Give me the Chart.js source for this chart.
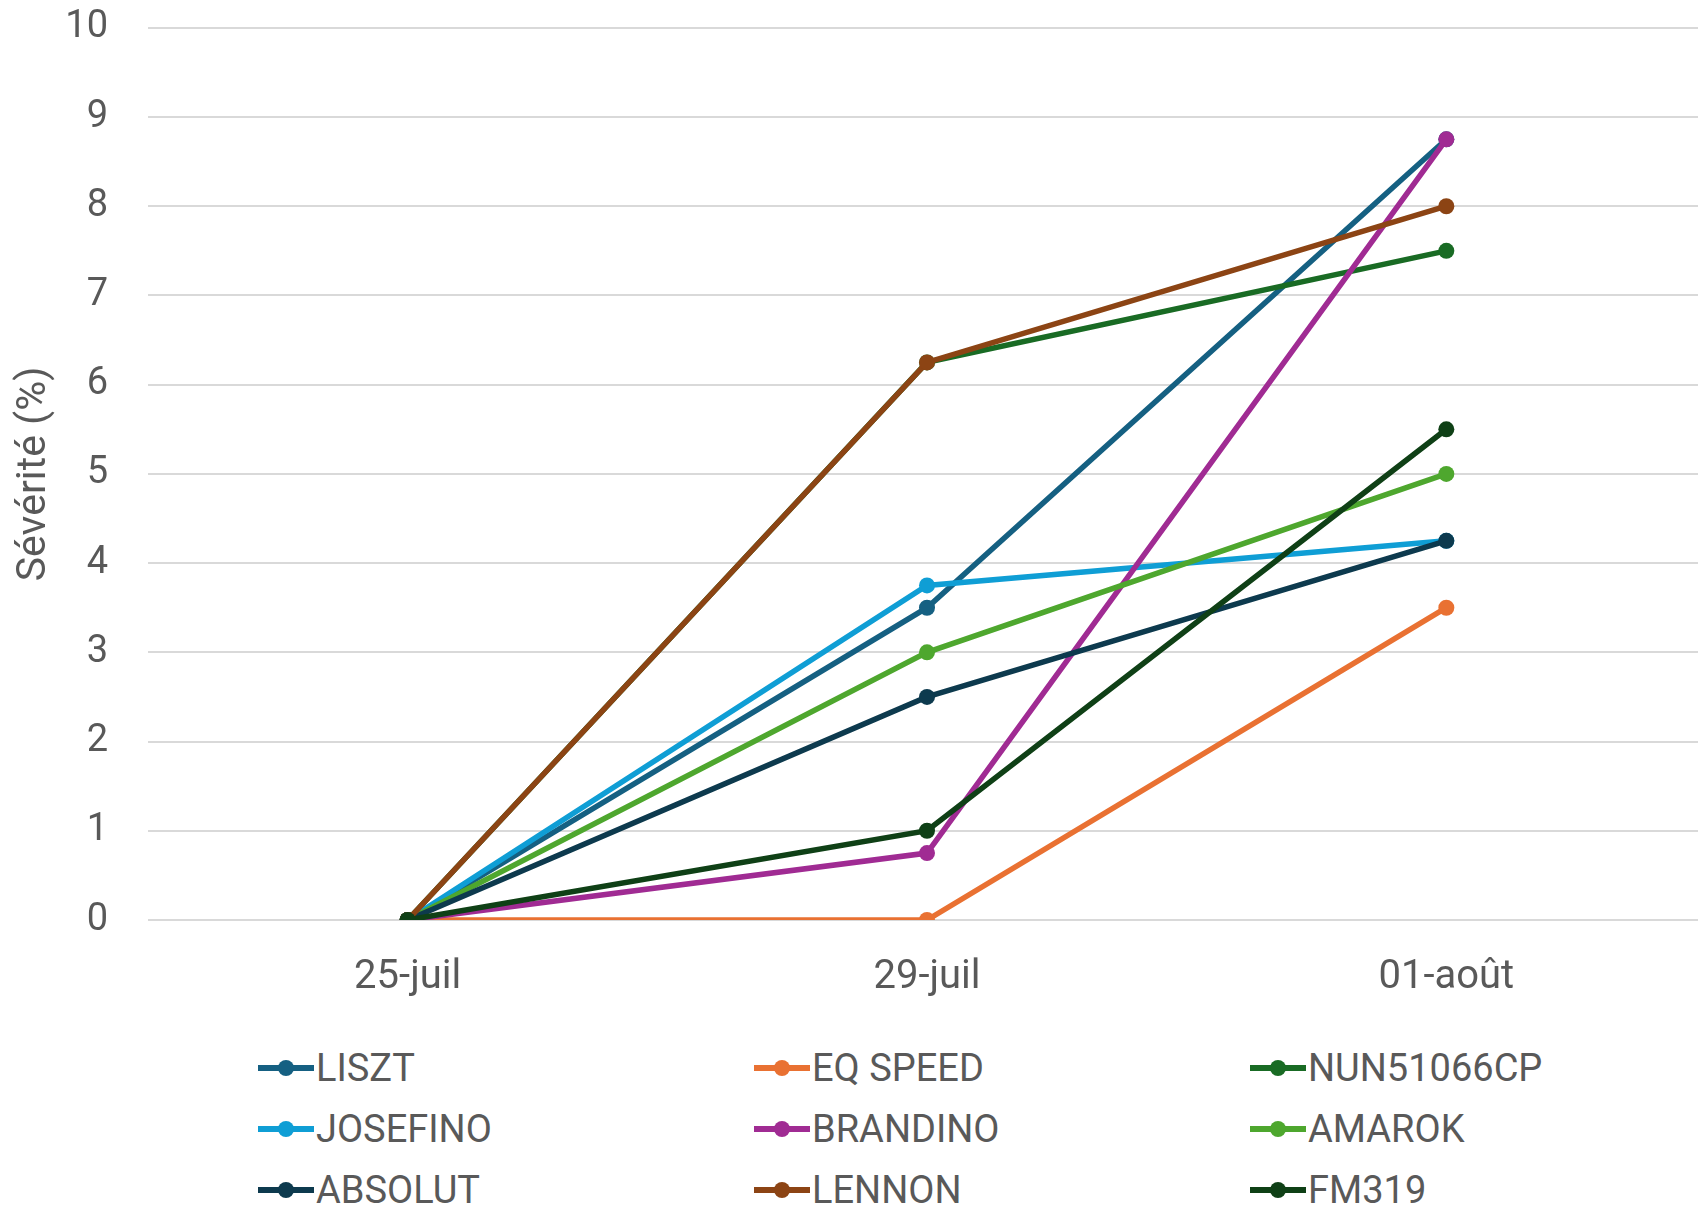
<!DOCTYPE html>
<html>
<head>
<meta charset="utf-8">
<script src="https://cdn.jsdelivr.net/npm/chart.js@4"></script>
<style>
  html, body { margin: 0; padding: 0; background: #fff; overflow: hidden; }
  #wrap { position: relative; width: 1698px; height: 1206px; overflow: hidden; font-family: Roboto, sans-serif; }
  #chartBox { position: absolute; left: 0; top: -35px; width: 1714px; height: 1047px; }
  #legend { position: absolute; left: 258px; top: 1037px; width: 1440px; display: grid;
    grid-template-columns: 496px 496px 448px; grid-auto-rows: 61px; }
  .item { display: flex; align-items: center; font-size: 38px; color: #595959; }
  .sym { position: relative; width: 56px; height: 16px; margin-right: 2px; }
  .sym .ln { position: absolute; left: 0; right: 0; top: 5px; height: 6px; }
  .sym .pt { position: absolute; left: 20px; top: 0; width: 16px; height: 16px; border-radius: 50%; }
</style>
</head>
<body>
<div id="wrap">
  <div id="chartBox"><canvas id="chart"></canvas></div>
  <div id="legend"></div>
</div>
<script>
const categories = ['25-juil', '29-juil', '01-août'];
const seriesNames = ['LISZT', 'EQ SPEED', 'NUN51066CP', 'JOSEFINO', 'BRANDINO', 'AMAROK', 'ABSOLUT', 'LENNON', 'FM319'];
const liszt = [0, 3.5, 8.75];
const eqSpeed = [0, 0, 3.5];
const nun51066cp = [0, 6.25, 7.5];
const josefino = [0, 3.75, 4.25];
const brandino = [0, 0.75, 8.75];
const amarok = [0, 3, 5];
const absolut = [0, 2.5, 4.25];
const lennon = [0, 6.25, 8];
const fm319 = [0, 1, 5.5];
const seriesColors = ['#156082', '#E97132', '#196B24', '#0F9ED5', '#A02B93', '#4EA72E', '#0D3A4E', '#8C4414', '#0F4016'];

const allValues = [liszt, eqSpeed, nun51066cp, josefino, brandino, amarok, absolut, lennon, fm319];
const textColor = '#595959';

const datasets = seriesNames.map((name, i) => ({
  label: name,
  data: allValues[i],
  borderColor: seriesColors[i],
  backgroundColor: seriesColors[i],
  borderWidth: 5.5,
  pointRadius: 8,
  pointHoverRadius: 8,
  pointBorderWidth: 0,
  tension: 0,
  order: seriesNames.length - i   // later series drawn on top, like the original
}));

const ctx = document.getElementById('chart').getContext('2d');
const chart = new Chart(ctx, {
  type: 'line',
  data: { labels: categories, datasets: datasets },
  options: {
    responsive: true,
    maintainAspectRatio: false,
    animation: false,
    layout: { padding: 0 },
    plugins: { legend: { display: false }, tooltip: { enabled: false } },
    scales: {
      x: {
        offset: true,
        grid: { display: false },
        border: { display: false },
        ticks: { color: textColor, font: { family: 'Roboto', size: 40 }, padding: 26 },
        afterFit: scale => { scale.height = 92; }
      },
      y: {
        min: 0,
        max: 10,
        ticks: { stepSize: 1, color: textColor, font: { family: 'Roboto', size: 38 }, padding: 40 },
        grid: { color: '#d9d9d9', lineWidth: 2, drawTicks: false },
        border: { display: false },
        title: { display: true, text: 'Sévérité (%)', color: textColor, font: { family: 'Roboto', size: 41 }, padding: { top: 10, bottom: 0 } },
        afterFit: scale => { scale.width = 148; }
      }
    }
  }
});

// legend in three columns like the original
const legendEl = document.getElementById('legend');
seriesNames.forEach((name, i) => {
  const item = document.createElement('div');
  item.className = 'item';
  item.innerHTML = '<span class="sym"><span class="ln" style="background:' + seriesColors[i] + '"></span>' +
    '<span class="pt" style="background:' + seriesColors[i] + '"></span></span>' + name;
  legendEl.appendChild(item);
});
</script>
</body>
</html>
